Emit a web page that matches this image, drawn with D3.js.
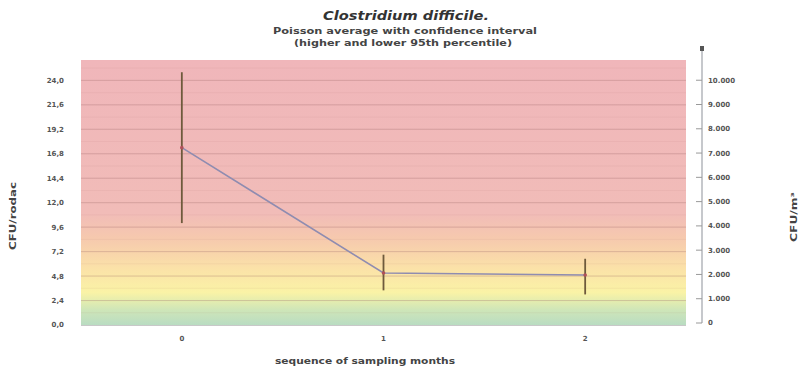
<!DOCTYPE html>
<html><head><meta charset="utf-8">
<script src="https://cdn.jsdelivr.net/npm/d3@7"></script>
<style>body{margin:0;background:#fff}svg{display:block}text{font-family:"DejaVu Sans",sans-serif}</style>
</head><body><svg id="c" width="810" height="369"></svg>
<script>
const categories = ["0","1","2"];
const means = [17.4, 5.1, 4.9];
const upper = [24.8, 6.9, 6.5];
const lower = [10.0, 3.4, 3.0];
const leftTicks = [0,2.4,4.8,7.2,9.6,12.0,14.4,16.8,19.2,21.6,24.0];
const rightTicks = [0,1000,2000,3000,4000,5000,6000,7000,8000,9000,10000];
const bandStops = [[0,"#b9dcc2"],[1.5,"#cfe6b8"],[3.2,"#faf3a6"],[5.5,"#fbe2a8"],[8.5,"#f6c9ae"],[11,"#f1bcb8"],[26,"#f0b6ba"]];

const svg = d3.select("#c");
const L=81,R=686,T=60,B=325;
const y = d3.scaleLinear().domain([0,26]).range([B,T]);
const yR = d3.scaleLinear().domain([0,10000*26/24]).range([B-2,T]);
const x = d3.scaleBand().domain(categories).range([L,R]);

const defs = svg.append("defs");
const g = defs.append("linearGradient").attr("id","bg").attr("x1",0).attr("x2",0).attr("y1",1).attr("y2",0);
bandStops.forEach(s=>g.append("stop").attr("offset",(s[0]/26*100)+"%").attr("stop-color",s[1]));
svg.append("rect").attr("x",L).attr("y",T).attr("width",R-L).attr("height",B-T).attr("fill","url(#bg)");

d3.range(1.2,26,1.2).forEach(v=>{
  svg.append("line").attr("x1",L).attr("x2",R).attr("y1",y(v)).attr("y2",y(v))
    .attr("stroke","#a06060").attr("stroke-opacity",0.08).attr("stroke-width",1);
});
leftTicks.forEach(v=>{ if(v>0)
  svg.append("line").attr("x1",L).attr("x2",R).attr("y1",y(v)).attr("y2",y(v))
    .attr("stroke","#9a6a6a").attr("stroke-opacity",0.25).attr("stroke-width",1);
});
svg.append("line").attr("x1",L).attr("x2",R).attr("y1",B+0.5).attr("y2",B+0.5).attr("stroke","#c8c8c8");

const fmtL = d=>d3.format(".1f")(d).replace(".",",");
svg.append("g").selectAll("text").data(leftTicks).join("text")
  .attr("x",64).attr("y",d=>y(d)).attr("dy","0.35em").attr("text-anchor","end")
  .attr("font-size",7).attr("font-weight","bold").attr("fill","#555").text(fmtL);

const axR = svg.append("g").attr("transform",`translate(702,0)`);
axR.append("line").attr("x1",0).attr("x2",0).attr("y1",49).attr("y2",yR(0)).attr("stroke","#c6c8cc").attr("stroke-width",2);
axR.append("rect").attr("x",-2).attr("y",46).attr("width",4).attr("height",5).attr("fill","#555");
const fmtR = d=>d3.format(",")(d).replace(/,/g,".");
axR.selectAll("line.t").data(rightTicks).join("line").attr("class","t")
  .attr("x1",-6).attr("x2",0).attr("y1",d=>yR(d)).attr("y2",d=>yR(d)).attr("stroke","#999");
axR.selectAll("text").data(rightTicks).join("text")
  .attr("x",6).attr("y",d=>yR(d)).attr("dy","0.35em")
  .attr("font-size",7).attr("font-weight","bold").attr("fill","#555").text(fmtR);

svg.append("g").selectAll("text").data(categories).join("text")
  .attr("x",d=>x(d)+x.bandwidth()/2).attr("y",341).attr("text-anchor","middle")
  .attr("font-size",7).attr("font-weight","bold").attr("fill","#555").text(d=>d);

const cx = d=>x(d)+x.bandwidth()/2;
svg.append("path").datum(categories.map((c,i)=>[cx(c),y(means[i])]))
  .attr("d",d3.line()).attr("fill","none").attr("stroke","#8f8cb0").attr("stroke-width",1.6);
categories.forEach((c,i)=>{
  svg.append("line").attr("x1",cx(c)).attr("x2",cx(c)).attr("y1",y(upper[i])).attr("y2",y(lower[i]))
    .attr("stroke","#6e5a3c").attr("stroke-width",1.8);
});
svg.append("g").selectAll("circle").data(categories).join("circle")
  .attr("cx",cx).attr("cy",(d,i)=>y(means[i])).attr("r",1.8).attr("fill","#b05058");

function txt(s,xx,yy,size,len,opts={}){
  const t=svg.append("text").attr("x",xx).attr("y",yy).attr("text-anchor","middle").attr("font-size",size)
    .attr("font-weight","bold").attr("fill",opts.fill||"#444").text(s);
  if(len) t.attr("textLength",len).attr("lengthAdjust","spacingAndGlyphs");
  if(opts.italic) t.attr("font-style","italic");
  if(opts.rot) t.attr("x",0).attr("y",0).attr("transform",`translate(${xx},${yy}) rotate(-90)`);
  return t;
}
txt("Clostridium difficile.",406,20,11.5,166,{italic:true,fill:"#333"});
txt("Poisson average with confidence interval",405,34,8,264);
txt("(higher and lower 95th percentile)",403,46,8,218);
txt("sequence of sampling months",365,364,8,180);
txt("CFU/rodac",16,216,8,68,{rot:true});
txt("CFU/m³",797,217,8,50,{rot:true});
</script></body></html>
